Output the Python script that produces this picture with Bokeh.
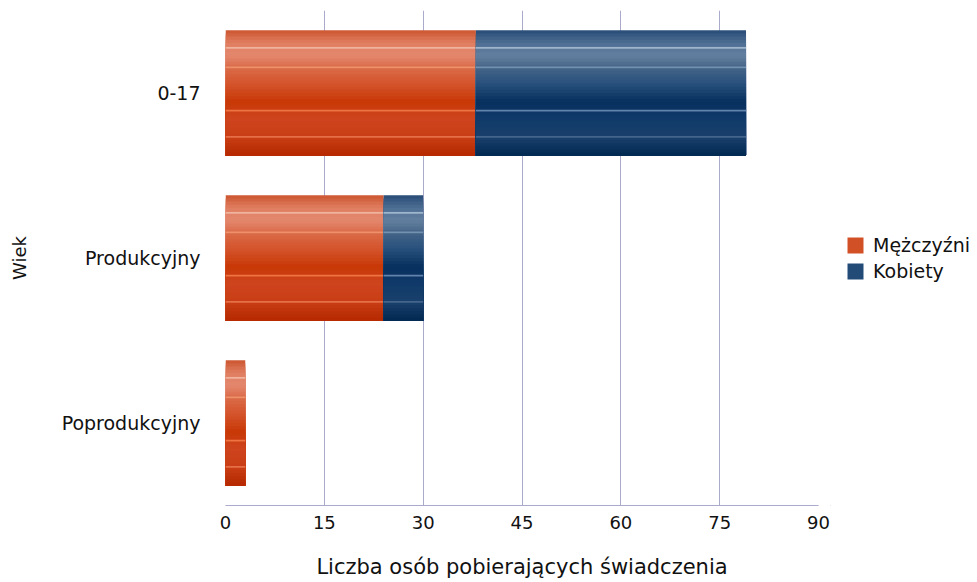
from bokeh.plotting import figure
from bokeh.layouts import row
from bokeh.models import Legend, LegendItem, ColumnDataSource, FixedTicker
from bokeh.transform import dodge
from bokeh.embed import file_html
from bokeh.resources import INLINE

categories = ["0-17", "Produkcyjny", "Poprodukcyjny"]
men = [38, 24, 3]
women = [41, 6, 0]
series_names = ["Mężczyźni", "Kobiety"]
x_ticks = [0, 15, 30, 45, 60, 75, 90]

FONT = "DejaVu Sans"
TXT = "#111111"

# gradient stops (t from top 0 to bottom 1) -- styling only
orange_stops = [(0.0, (0xcc, 0x55, 0x30)), (0.1, (0xdf, 0x7e, 0x60)), (0.2, (0xe4, 0x88, 0x6e)),
                (0.3, (0xda, 0x6a, 0x48)), (0.42, (0xd4, 0x56, 0x2e)), (0.57, (0xc8, 0x38, 0x06)),
                (0.7, (0xce, 0x44, 0x1e)), (0.85, (0xc9, 0x3e, 0x15)), (1.0, (0xb5, 0x28, 0x00))]
blue_stops = [(0.0, (0x28, 0x4c, 0x76)), (0.1, (0x4e, 0x6e, 0x93)), (0.2, (0x64, 0x80, 0xa0)),
              (0.3, (0x44, 0x64, 0x86)), (0.42, (0x2a, 0x52, 0x7e)), (0.57, (0x08, 0x30, 0x5e)),
              (0.7, (0x10, 0x3a, 0x6a)), (0.85, (0x1a, 0x40, 0x6c)), (1.0, (0x00, 0x28, 0x50))]
orange_lines = [(0.14, "#f2b8a4"), (0.295, "#f0956e"), (0.64, "#f27a4a"), (0.85, "#e8764e")]
blue_lines = [(0.14, "#a6bcd2"), (0.295, "#7896b6"), (0.64, "#6a8cb4"), (0.85, "#4a6890")]


def interp(stops, t):
    for (t0, c0), (t1, c1) in zip(stops[:-1], stops[1:]):
        if t0 <= t <= t1:
            f = (t - t0) / (t1 - t0) if t1 > t0 else 0
            c = tuple(int(round(a + (b - a) * f)) for a, b in zip(c0, c1))
            return "#%02x%02x%02x" % c
    return "#%02x%02x%02x" % stops[-1][1]


left_m = [0] * len(men)
right_m = list(men)
left_w = right_m[:]
right_w = [m + w for m, w in zip(men, women)]

src = ColumnDataSource(dict(cat=categories, lm=left_m, rm=right_m, lw=left_w, rw=right_w))

p = figure(width=830, height=581, y_range=list(reversed(categories)), x_range=(0, 90),
           output_backend="svg", toolbar_location=None,
           min_border_left=225, min_border_right=12, min_border_top=10, min_border_bottom=76)
p.outline_line_color = None

BAR_H = 0.76
N = 40
for lcol, rcol, stops, lines in [("lm", "rm", orange_stops, orange_lines),
                                 ("lw", "rw", blue_stops, blue_lines)]:
    for i in range(N):
        t0 = i / N
        h = (1 - t0) * BAR_H
        off = BAR_H / 2 - t0 * BAR_H - h / 2
        p.hbar(y=dodge("cat", off, range=p.y_range), left=lcol, right=rcol, height=h,
               source=src, fill_color=interp(stops, t0 + 0.5 / N), line_color=None)
    for t, c in lines:
        off = BAR_H / 2 - t * BAR_H
        p.hbar(y=dodge("cat", off, range=p.y_range), left=lcol, right=rcol, height=0.011,
               source=src, fill_color=c, line_color=None, fill_alpha=0.9)

p.xgrid.ticker = FixedTicker(ticks=x_ticks)
p.xgrid.grid_line_color = "#aaaacc"
p.ygrid.grid_line_color = None

p.xaxis.ticker = FixedTicker(ticks=x_ticks)
p.xaxis.axis_line_color = "#aaaacc"
p.xaxis.major_tick_line_color = None
p.xaxis.minor_tick_line_color = None
p.xaxis.major_label_text_font = FONT
p.xaxis.major_label_text_font_size = "18px"
p.xaxis.major_label_text_color = TXT
p.xaxis.major_label_standoff = 4
p.xaxis.axis_label = "Liczba osób pobierających świadczenia"
p.xaxis.axis_label_text_font = FONT
p.xaxis.axis_label_text_font_size = "21px"
p.xaxis.axis_label_text_font_style = "normal"
p.xaxis.axis_label_text_color = TXT
p.xaxis.axis_label_standoff = 23

p.yaxis.axis_line_color = None
p.yaxis.major_tick_line_color = None
p.yaxis.minor_tick_line_color = None
p.yaxis.major_label_text_font = FONT
p.yaxis.major_label_text_font_size = "19px"
p.yaxis.major_label_text_color = TXT
p.yaxis.major_label_standoff = 19
p.yaxis.axis_label = "Wiek"
p.yaxis.axis_label_text_font = FONT
p.yaxis.axis_label_text_font_size = "18px"
p.yaxis.axis_label_text_font_style = "normal"
p.yaxis.axis_label_text_color = TXT
p.yaxis.axis_label_standoff = 29

# legend panel
lf = figure(width=145, height=581, x_range=(0, 1), y_range=(0, 1), output_backend="svg",
            toolbar_location=None, min_border_left=0, min_border_right=0,
            min_border_top=0, min_border_bottom=0)
lf.axis.visible = False
lf.grid.visible = False
lf.outline_line_color = None
offscreen = ColumnDataSource(dict(y=[-10], l=[-10], r=[-9]))
rm_ = lf.hbar(y="y", left="l", right="r", height=1, source=offscreen,
              fill_color=interp(orange_stops, 0.45), line_color=None)
rw_ = lf.hbar(y="y", left="l", right="r", height=1, source=offscreen,
              fill_color=interp(blue_stops, 0.45), line_color=None)
legend = Legend(items=[LegendItem(label=series_names[0], renderers=[rm_]),
                       LegendItem(label=series_names[1], renderers=[rw_])],
                location=(15, 223), orientation="vertical")
legend.label_text_font = FONT
legend.label_text_font_size = "19px"
legend.label_text_color = TXT
legend.border_line_color = None
legend.background_fill_alpha = 0
legend.glyph_width = 20
legend.glyph_height = 20
legend.spacing = 4
legend.label_standoff = 8
legend.label_height = 20
legend.padding = 0
legend.margin = 0
lf.add_layout(legend, "center")

layout = row(p, lf)
open("out.html", "w").write(file_html(layout, INLINE))
